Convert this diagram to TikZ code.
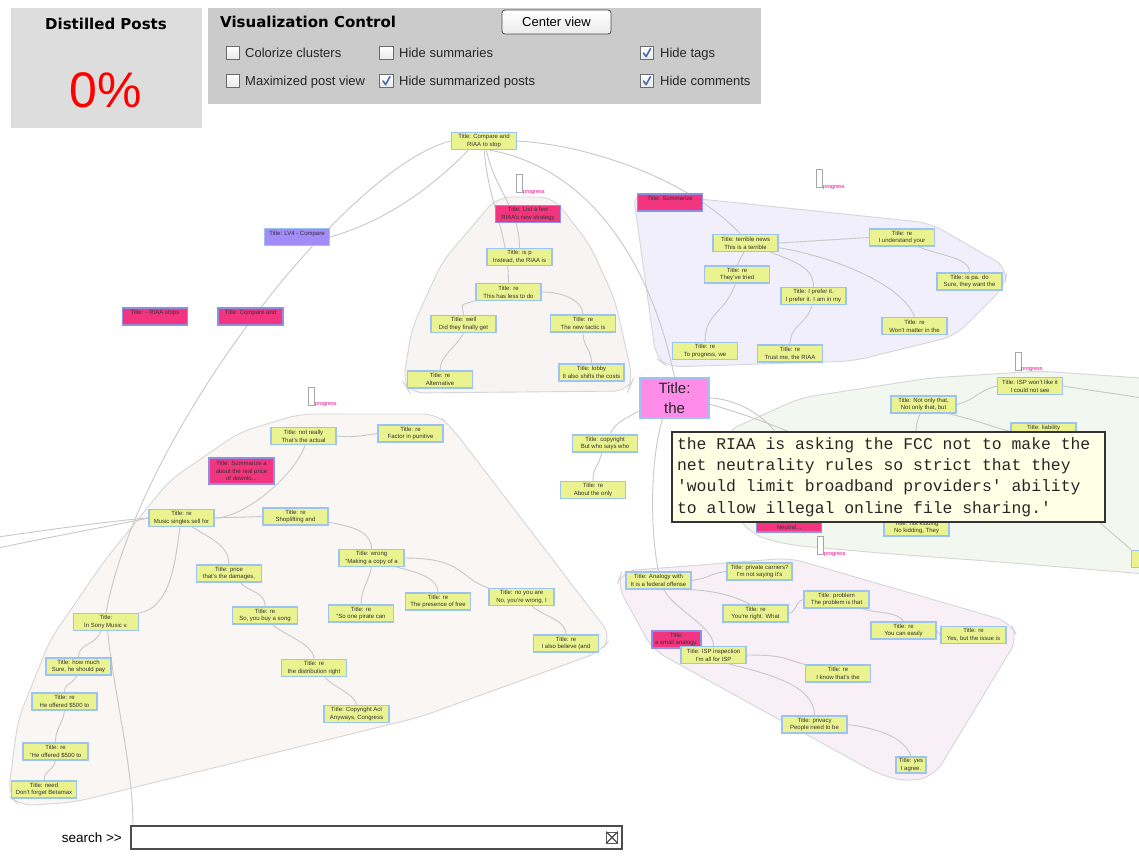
\documentclass[tikz,border=0pt]{standalone}
\usepackage{fontspec}
\setmainfont{Liberation Sans}
\newfontfamily\headfont{DejaVu Sans}
\newfontfamily\tipfont{Liberation Mono}
\usetikzlibrary{calc,backgrounds}

\definecolor{postfill}{HTML}{EAF38F}
\definecolor{postline}{HTML}{9DC3F0}
\definecolor{summfill}{HTML}{F2357E}
\definecolor{summline}{HTML}{8F8FE8}
\definecolor{lvfill}{HTML}{A38CF8}
\definecolor{bigfill}{HTML}{FF8CE8}
\definecolor{textgray}{HTML}{333333}
\definecolor{edgegray}{HTML}{C8C8C8}
\definecolor{hullline}{HTML}{D6D6D6}
\definecolor{hullA}{HTML}{F8F4F3}
\definecolor{hullB}{HTML}{F1EFFB}
\definecolor{hullC}{HTML}{F9F6F4}
\definecolor{hullD}{HTML}{F2F7EF}
\definecolor{hullE}{HTML}{F8EFF7}
\definecolor{panelA}{HTML}{DDDDDD}
\definecolor{panelB}{HTML}{CBCBCB}
\definecolor{tipfill}{HTML}{FFFFE6}
\definecolor{checkblue}{HTML}{4A67B0}

\newcommand{\nodefont}{\fontsize{6}{7.8}\selectfont}
\newcommand{\progfont}{\fontsize{5.5}{6}\selectfont}
\newcommand{\uifont}{\fontsize{13}{15}\selectfont}
% fixed-width gap between words of the monospaced tooltip
\newcommand{\ms}{\hspace*{0.6em}}

\begin{document}
\begin{tikzpicture}[x=1pt,y=-1pt,
  postbox/.style={draw=postline, fill=postfill, line width=1.1pt, minimum width=65pt,
    minimum height=17pt, inner sep=0pt, align=center, font=\nodefont, text=textgray},
  summbox/.style={postbox, draw=summline, fill=summfill},
  link/.style={draw=edgegray, line width=0.9pt},
  hullshape/.style={draw=hullline, line width=0.9pt, rounded corners=14pt},
  progbox/.style={draw=gray!70, fill=white, line width=1pt, minimum width=6pt,
    minimum height=18pt, inner sep=0pt},
  proglabel/.style={text=magenta, font=\progfont, inner sep=0pt, anchor=base west},
  chkbox/.style={draw=gray!85!black, top color=white, bottom color=gray!18, line width=0.8pt,
    minimum size=13.5pt, inner sep=0pt},
  chklabel/.style={font=\uifont, inner sep=0pt, anchor=base west, text=black!85},
  checkmark/.style={draw=checkblue, line width=1.6pt, line cap=round, line join=round}
]
\useasboundingbox (0,0) rectangle (1139,855);

% ---------------- UI panels ----------------
\fill[panelA] (11,8) rectangle (202,128);
\node[font=\headfont\bfseries\fontsize{15}{18}\selectfont, anchor=base, inner sep=0pt] (disttitle) at (106,29) {Distilled Posts};
\node[font=\fontsize{50}{50}\selectfont, text=red, anchor=base, inner sep=0pt] (distval) at (106,107) {0\%};

\fill[panelB] (208,8) rectangle (761,104);
\node[font=\headfont\bfseries\fontsize{15}{18}\selectfont, anchor=base west, inner sep=0pt] (vistitle) at (220,27) {Visualization Control};
\node[draw=gray!60!black, rounded corners=3pt, top color=white, bottom color=gray!15, line width=0.8pt,
      minimum width=109pt, minimum height=24pt, inner sep=0pt, font=\uifont] (centerbtn) at (556.5,22) {Center view};

\node[chkbox] (cb1) at (233,53) {};
\node[chkbox] (cb2) at (233,81) {};
\node[chkbox] (cb3) at (386.5,53) {};
\node[chkbox] (cb4) at (386.5,81) {};
\node[chkbox] (cb5) at (647,53) {};
\node[chkbox] (cb6) at (647,81) {};
\foreach \c in {cb4,cb5,cb6}
  \draw[checkmark] ($(\c)+(-3.5,0)$) -- ++(2.6,3.6) -- ++(4.4,-8);
\node[chklabel] (l1) at (245,57.5) {Colorize clusters};
\node[chklabel] (l2) at (245,85.5) {Maximized post view};
\node[chklabel] (l3) at (399,57.5) {Hide summaries};
\node[chklabel] (l4) at (399,85.5) {Hide summarized posts};
\node[chklabel] (l5) at (660,57.5) {Hide tags};
\node[chklabel] (l6) at (660,85.5) {Hide comments};

% ---------------- posts ----------------
% cluster: strategy
\node[postbox] (cmp) at (484,141) {Title: Compare and\\RIAA to stop};
\node[summbox] (lista) at (528,214) {Title: List a few\\RIAA's new strategy};
\node[postbox] (isp) at (519.5,257) {Title: is p\\Instead, the RIAA is};
\node[postbox] (thisless) at (508.5,292) {Title: re\\This has less to do};
\node[postbox] (well) at (463.5,324) {Title: well\\Did they finally get};
\node[postbox] (newtactic) at (583,323.5) {Title: re\\The new tactic is};
\node[postbox] (altern) at (440,379.5) {Title: re\\Alternative};
\node[postbox] (lobby) at (591.5,372.5) {Title: lobby\\It also shifts the costs};

% cluster: terrible news
\node[summbox] (summ) at (670,202.5) {Title: Summarize\\~};
\node[postbox] (terrible) at (745.5,243) {Title: terrible news\\This is a terrible};
\node[postbox] (understand) at (902,237.5) {Title: re\\I understand your};
\node[postbox] (tried) at (737,274.5) {Title: re\\They've tried};
\node[postbox] (ispado) at (969.5,281.5) {Title: is pa. do\\Sure, they want the};
\node[postbox] (prefer) at (813.5,296) {Title: I prefer it.\\I prefer it. I am in my};
\node[postbox] (wont) at (914.5,326) {Title: re\\Won't matter in the};
\node[postbox] (toprog) at (705,351) {Title: re\\To progress, we};
\node[postbox] (trust) at (790,353.5) {Title: re\\Trust me, the RIAA};

% unclustered
\node[postbox, fill=lvfill] (lv4) at (297,237) {Title: LV4 - Compare\\~};
\node[summbox] (rstops) at (155,316.5) {Title: - RIAA stops\\~};
\node[summbox] (cmp2) at (250.5,316.5) {Title: Compare and\\~};

% cluster: price
\node[postbox] (notreally) at (303.5,436) {Title: not really\\That's the actual};
\node[postbox] (factor) at (410.5,433.5) {Title: re\\Factor in punitive};
\node[summbox, minimum height=26pt] (summa) at (241.5,471) {Title: Summarize a\\about the real price\\of downlo...};
\node[postbox] (music) at (181.5,518) {Title: re\\Music singles sell for};
\node[postbox] (shoplift) at (295.5,516.5) {Title: re\\Shoplifting and};
\node[postbox] (price) at (229,573.5) {Title: price\\that's the damages,};
\node[postbox] (wrong) at (371.5,558) {Title: wrong\\"Making a copy of a};
\node[postbox] (sobuy) at (265,615.5) {Title: re\\So, you buy a song};
\node[postbox] (onepirate) at (361,613.5) {Title: re\\"So one pirate can};
\node[postbox] (presence) at (438,601.5) {Title: re\\The presence of free};
\node[postbox] (noyou) at (521.5,597) {Title: no you are\\No, you're wrong, I};
\node[postbox] (believe) at (566,643.5) {Title: re\\I also believe (and};
\node[postbox] (sony) at (106,622) {Title:\\In Sony Music v.};
\node[postbox] (howmuch) at (78.5,666.5) {Title: how much\\Sure, he should pay};
\node[postbox] (distrib) at (314,668) {Title: re\\the distribution right};
\node[postbox] (offered1) at (64.5,701.5) {Title: re\\He offered \$500 to};
\node[postbox] (copyact) at (356.5,714) {Title: Copyright Act\\Anyways, Congress};
\node[postbox] (offered2) at (55.5,751.5) {Title: re\\"He offered \$500 to};
\node[postbox] (need) at (44,789.5) {Title: need\\Don't forget Betamax};
\coordinate (lft1) at (-2,537);
\coordinate (lft2) at (-2,548);
\coordinate (lostend) at (133,826);

% cluster: neutrality
\node[postbox, fill=bigfill, minimum width=69pt, minimum height=40pt,
      font=\fontsize{15}{19.5}\selectfont, text=black!85] (theT) at (674.5,398) {Title:\\the};
\node[postbox] (copyright) at (605,443.5) {Title: copyright\\But who says who};
\node[postbox] (aboutonly) at (593,490) {Title: re\\About the only};
\node[postbox] (notonly) at (923.5,404.5) {Title: Not only that,\\Not only that, but};
\node[postbox] (iswont) at (1030,386) {Title: ISP won't like it\\I could not see};
\node[postbox] (liability) at (1043.5,431.5) {Title: liability\\~};
\node[summbox] (neutral) at (789,523.5) {Title:\\Neutral...};
\node[postbox] (kidding) at (916.5,527.5) {Title: not kidding\\No kidding, They};
\node[postbox] (rimnode) at (1164,559) {Title: re\\~};
\coordinate (offr1) at (1142,398);

% cluster: analogy
\node[postbox] (analogy) at (658.5,580.5) {Title: Analogy with\\It is a federal offense};
\node[postbox] (private) at (759.5,571.5) {Title: private carriers?\\I'm not saying it's};
\node[postbox] (youright) at (755.5,613.5) {Title: re\\You're right. What};
\node[postbox] (problem) at (836.5,599.5) {Title: problem\\The problem is that};
\node[postbox] (youcan) at (903.5,630.5) {Title: re\\You can easily};
\node[postbox] (yesbut) at (973.5,635) {Title: re\\Yes, but the issue is};
\node[summbox, minimum width=49pt] (smallan) at (676.5,639.5) {Title:\\a small analogy.};
\node[postbox] (ispinsp) at (713.5,655) {Title: ISP inspection\\I'm all for ISP};
\node[postbox] (iknow) at (838,673.5) {Title: re\\I know that's the};
\node[postbox] (privacy) at (814.5,724.5) {Title: privacy\\People need to be};
\node[postbox, minimum width=30pt, minimum height=16pt] (yes) at (911,765) {Title: yes\\I agree.};

% ---------------- clusters and links, behind the posts ----------------
\begin{pgfonlayer}{background}
\fill[white] (0,0) rectangle (1139,855);
\draw[hullshape, fill=hullA] (497,197) -- (553,197) -- (590,245) -- (615,300) -- (633,380)
   -- (628,391) -- (410,393) -- (403,382) -- (412,328) -- (442,262) -- cycle;
\draw[hullshape, fill=hullB] (633,192) -- (930,223) -- (1008,268) -- (1004,287) -- (955,336)
   -- (853,361) -- (668,367) -- (656,358) -- cycle;
\draw[hullshape, fill=hullC] (300,414) -- (437,414) -- (452,428) -- (612,637) -- (600,652)
   -- (420,717) -- (75,802) -- (20,806) -- (8,795) -- (18,720) -- (50,640) -- (105,560)
   -- (170,480) -- (240,432) -- cycle;
\draw[hullshape, fill=hullD] (725,432) -- (800,398) -- (930,378) -- (1040,371) -- (1170,380)
   -- (1170,576) -- (1000,562) -- (880,553) -- (790,545) -- (752,535) -- (725,500) -- cycle;
\draw[hullshape, fill=hullE] (622,571) -- (790,558) -- (1010,622) -- (1018,638) -- (935,775)
   -- (910,782) -- (880,775) -- (653,650) -- (617,585) -- cycle;

% strategy cluster
\draw[link] (cmp.-75) .. controls +(8,40) and +(0,-40) .. (isp.north);
\draw[link] (cmp.-88) .. controls +(3,50) and +(0,-50) .. (thisless.north);
\draw[link] (thisless.-165) .. controls +(-20,5) and +(0,-10) .. (well.north);
\draw[link] (well.south) .. controls +(-8,15) and +(0,-15) .. (altern.north);
\draw[link] (thisless.east) .. controls +(25,0) and +(0,-12) .. (newtactic.north);
\draw[link] (newtactic.south) .. controls +(0,15) and +(0,-15) .. (lobby.north);
% long links from the top post
\draw[link] (cmp.-150) .. controls (420,200) and (370,226) .. (lv4.east);
\draw[link] (cmp.west) .. controls (350,165) and (140,430) .. (sony.north);
\draw[link] (sony.-80) .. controls +(6,60) and +(0,-60) .. (lostend);
\draw[link] (cmp.east) .. controls (590,145) and (690,180) .. (terrible.120);
\draw[link] (cmp.-60) .. controls (600,170) and (655,280) .. (theT.north);
% terrible news cluster
\draw[link] (terrible.east) -- (understand.west);
\draw[link] (understand.-30) .. controls +(25,10) and +(0,-15) .. (ispado.north);
\draw[link] (terrible.-100) -- (tried.north);
\draw[link] (tried.-100) .. controls +(-10,30) and +(0,-30) .. (toprog.north);
\draw[link] (terrible.-20) .. controls +(25,10) and +(0,-20) .. (prefer.north);
\draw[link] (prefer.-100) .. controls +(-5,20) and +(0,-20) .. (trust.north);
\draw[link] (terrible.-8) .. controls +(60,10) and +(-10,-30) .. (wont.north);
% price cluster
\draw[link] (notreally.east) .. controls +(15,2) and +(-15,2) .. (factor.west);
\draw[link] (notreally.-80) .. controls +(-10,30) and +(30,0) .. (music.east);
\draw[link] (music.east) -- (shoplift.west);
\draw[link] (music.-40) .. controls +(15,10) and +(0,-20) .. (price.north);
\draw[link] (price.-40) .. controls +(10,10) and +(0,-15) .. (sobuy.north);
\draw[link] (sobuy.-50) .. controls +(10,10) and +(0,-15) .. (distrib.north);
\draw[link] (distrib.-40) .. controls +(8,10) and +(0,-10) .. (copyact.north);
\draw[link] (shoplift.-10) .. controls +(30,5) and +(0,-15) .. (wrong.north);
\draw[link] (wrong.south) .. controls +(-3,15) and +(0,-15) .. (onepirate.north);
\draw[link] (wrong.-20) .. controls +(20,5) and +(0,-15) .. (presence.north);
\draw[link] (wrong.east) .. controls +(60,0) and +(-30,-10) .. (noyou.north west);
\draw[link] (noyou.-40) .. controls +(10,10) and +(0,-15) .. (believe.north);
\draw[link] (music.-100) .. controls +(-5,40) and +(30,-5) .. (sony.north east);
\draw[link] (sony.-120) .. controls +(-5,15) and +(0,-15) .. (howmuch.north);
\draw[link] (howmuch.-100) .. controls +(-5,10) and +(0,-10) .. (offered1.north);
\draw[link] (offered1.south) .. controls +(-2,15) and +(0,-15) .. (offered2.north);
\draw[link] (offered2.south) .. controls +(-2,10) and +(0,-10) .. (need.north);
\draw[link] (lft1) .. controls (60,528) and (120,520) .. (music.west);
\draw[link] (lft2) .. controls (60,535) and (120,524) .. (music.west);
% neutrality cluster
\draw[link] (copyright.-110) .. controls +(-3,15) and +(0,-15) .. (aboutonly.north);
\draw[link] (copyright.60) .. controls +(3,-12) and +(-8,5) .. (theT.-160);
\draw[link] (theT.-120) .. controls (650,460) and (650,530) .. (analogy.north);
\draw[link] (theT.east) .. controls (760,400) and (810,450) .. (neutral.north);
\draw[link] (theT.-10) .. controls (800,430) and (880,470) .. (kidding.north);
\draw[link] (notonly.east) .. controls +(20,-5) and +(-20,5) .. (iswont.west);
\draw[link] (notonly.-110) .. controls +(-10,20) and +(0,-30) .. (kidding.north);
\draw[link] (iswont.east) .. controls +(30,5) and +(-30,-5) .. (offr1);
\draw[link] (notonly.-20) .. controls +(40,10) and +(-20,-5) .. (liability.west);
\draw[link] (liability.south) .. controls +(20,60) and +(-20,-20) .. (rimnode.north west);
% analogy cluster
\draw[link] (analogy.east) .. controls +(20,-3) and +(-20,3) .. (private.west);
\draw[link] (analogy.-20) .. controls +(30,0) and +(-15,-8) .. (youright.120);
\draw[link] (youright.east) .. controls +(10,-3) and +(-10,3) .. (problem.west);
\draw[link] (problem.-20) .. controls +(15,5) and +(-5,-10) .. (youcan.north);
\draw[link] (youcan.east) -- (yesbut.west);
\draw[link] (analogy.-60) .. controls +(10,20) and +(0,-20) .. (ispinsp.north);
\draw[link] (ispinsp.east) .. controls +(40,0) and +(-20,-5) .. (iknow.north west);
\draw[link] (ispinsp.-30) .. controls +(40,10) and +(0,-30) .. (privacy.north);
\draw[link] (privacy.east) .. controls +(40,5) and +(-5,-15) .. (yes.north);
\end{pgfonlayer}

% ---------------- progress markers ----------------
\node[progbox] (p1) at (519,183) {};
\node[proglabel] (p1t) at (523,193) {progress};
\node[progbox] (p2) at (819.5,178.5) {};
\node[proglabel] (p2t) at (823,188) {progress};
\node[progbox] (p3) at (311,396) {};
\node[proglabel] (p3t) at (315,405) {progress};
\node[progbox] (p4) at (1018,361.5) {};
\node[proglabel] (p4t) at (1021,370) {progress};
\node[progbox] (p5) at (820,545) {};
\node[proglabel] (p5t) at (824,555) {progress};

% ---------------- tooltip ----------------
\node[draw=black!80, line width=1.6pt, fill=tipfill, minimum width=433pt, minimum height=90pt,
      text width=423pt, align=left, inner sep=0pt, text=black!85,
      font=\tipfont\fontsize{16.4}{21.4}\selectfont] (tip) at (888.5,477)
  {the\ms RIAA\ms is\ms asking\ms the\ms FCC\ms not\ms to\ms make\ms the\\
   net\ms neutrality\ms rules\ms so\ms strict\ms that\ms they\\
   \textquotesingle would\ms limit\ms broadband\ms providers\textquotesingle\ms ability\\
   to\ms allow\ms illegal\ms online\ms file\ms sharing.\textquotesingle};

% ---------------- search bar ----------------
\node[font=\fontsize{13.5}{15}\selectfont, anchor=base east, inner sep=0pt] (searchlbl) at (122,842) {search {>}{>}};
\node[draw=black!70, line width=1.1pt, fill=white, minimum width=491pt, minimum height=23pt, inner sep=0pt] (searchbox) at (376.5,837.5) {};
\node[draw=gray!70!black, line width=0.7pt, minimum size=11pt, inner sep=0pt] (clearbtn) at (612,837.5) {};
\draw[gray!60!black, line width=1.2pt] (clearbtn.south west) -- (clearbtn.north east)
      (clearbtn.north west) -- (clearbtn.south east);
\end{tikzpicture}
\end{document}
